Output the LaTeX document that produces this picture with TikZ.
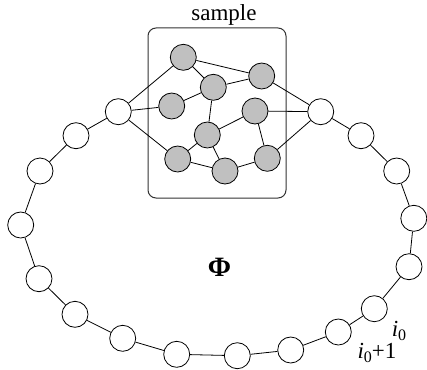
\documentclass[tikz,border=0pt]{standalone}
\usepackage{fontspec}
\setmainfont{Liberation Serif}
\begin{document}
\begin{tikzpicture}[x=1pt,y=-1pt,
  wnode/.style={circle,draw=black,fill=white,minimum size=26pt,inner sep=0pt,line width=0.8pt},
  gnode/.style={circle,draw=black,fill={rgb,255:red,192;green,192;blue,192},minimum size=26pt,inner sep=0pt,line width=0.8pt},
  edge/.style={draw=black,line width=0.8pt},
  lbl/.style={inner sep=0pt,font=\fontsize{23}{26}\selectfont},
  sub/.style={}]
\useasboundingbox (0,0) rectangle (427,369);
% sample box
\node[draw={rgb,255:red,50;green,50;blue,50},line width=1pt,rounded corners=8pt,minimum width=138pt,minimum height=170pt,inner sep=0pt] (box) at (217,113) {};
\node[lbl] (sample) at (224,15) {sample};
% ring nodes
\node[wnode] (L) at (118.3,111.7) {};
\node[wnode] (w1) at (76,135.7) {};
\node[wnode] (w2) at (40,171) {};
\node[wnode] (w3) at (20.7,225) {};
\node[wnode] (w4) at (39,278.7) {};
\node[wnode] (w5) at (75,314.3) {};
\node[wnode] (w6) at (122.7,338.3) {};
\node[wnode] (w7) at (176.7,354.3) {};
\node[wnode] (w8) at (237.3,355.7) {};
\node[wnode] (w9) at (290.7,350) {};
\node[wnode] (w10) at (338.3,332) {};
\node[wnode] (w11) at (374.3,308.7) {};
\node[wnode] (w12) at (409,266.7) {};
\node[wnode] (w13) at (413.8,218.3) {};
\node[wnode] (w14) at (396.7,171) {};
\node[wnode] (w15) at (361,135.7) {};
\node[wnode] (R) at (320.7,111.7) {};
% gray nodes
\node[gnode] (g1) at (183.3,57.3) {};
\node[gnode] (g2) at (261.7,76) {};
\node[gnode] (g3) at (213.3,87.3) {};
\node[gnode] (g4) at (171.7,106) {};
\node[gnode] (g5) at (255,111) {};
\node[gnode] (g6) at (207.3,135) {};
\node[gnode] (g7) at (177.7,159) {};
\node[gnode] (g8) at (225,171) {};
\node[gnode] (g9) at (267.3,158.3) {};
% ring edges
\draw[edge] (L) -- (w1) -- (w2) -- (w3) -- (w4) -- (w5) -- (w6) -- (w7) -- (w8) -- (w9) -- (w10) -- (w11) -- (w12) -- (w13) -- (w14) -- (w15) -- (R);
% sample edges
\draw[edge] (L) -- (g1);
\draw[edge] (L) -- (g4);
\draw[edge] (L) -- (g7);
\draw[edge] (R) -- (g2);
\draw[edge] (R) -- (g5);
\draw[edge] (R) -- (g9);
\draw[edge] (g1) -- (g3);
\draw[edge] (g1) -- (g2);
\draw[edge] (g3) -- (g2);
\draw[edge] (g4) -- (g3);
\draw[edge] (g3) -- (g6);
\draw[edge] (g6) -- (g5);
\draw[edge] (g6) -- (g7);
\draw[edge] (g6) -- (g8);
\draw[edge] (g7) -- (g8);
\draw[edge] (g8) -- (g9);
\draw[edge] (g5) -- (g9);
% labels
\node[inner sep=0pt,font=\fontsize{28}{32}\selectfont\bfseries] (phi) at (219.5,267) {Φ};
\node[lbl] (i0) at (399,331) {\textit{i}\raisebox{-0.4ex}{\fontsize{16}{18}\selectfont 0}};
\node[lbl] (i01) at (377,353) {\textit{i}\raisebox{-0.4ex}{\fontsize{16}{18}\selectfont 0}+1};
\end{tikzpicture}
\end{document}
